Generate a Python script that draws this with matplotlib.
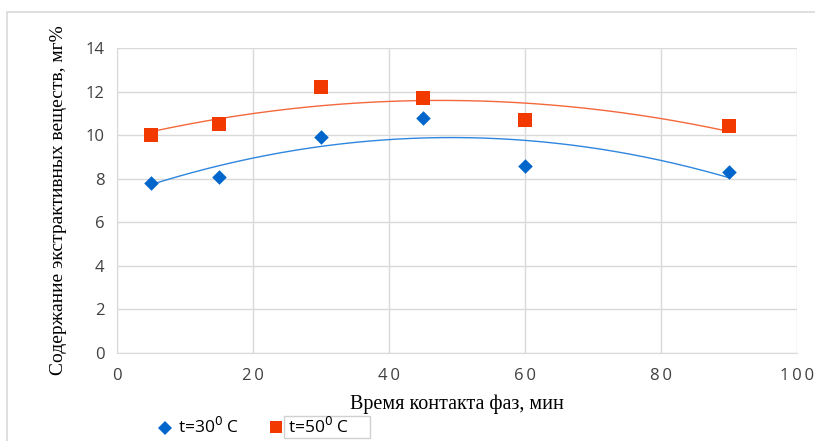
import numpy as np
import matplotlib
matplotlib.use("Agg")
import matplotlib.pyplot as plt
from matplotlib.patches import Rectangle
from matplotlib.lines import Line2D
from matplotlib.ticker import FuncFormatter

time_min = [5, 15, 30, 45, 60, 90]
t30 = [7.8, 8.1, 9.9, 10.8, 8.6, 8.3]
t50 = [10.0, 10.5, 12.2, 11.7, 10.7, 10.4]
labels = ["t=30$^0$ C", "t=50$^0$ C"]
xlabel = "Время контакта фаз, мин"
ylabel = "Содержание экстрактивных веществ, мг%"

blue = "#0066cc"
red = "#f23a00"

fig = plt.figure(figsize=(8.15, 4.41), dpi=100)
ax = fig.add_axes([0.1436, 0.1995, 0.8344, 0.6915])

xs = np.linspace(min(time_min), max(time_min), 200)
c30 = np.polyfit(time_min, t30, 2)
c50 = np.polyfit(time_min, t50, 2)
ax.plot(xs, np.polyval(c30, xs), color="#2e86de", lw=1.0, zorder=2)
ax.plot(xs, np.polyval(c50, xs), color="#f4683a", lw=1.0, zorder=2)
ax.scatter(time_min, t30, marker="D", s=55, color=blue, zorder=3, linewidths=0)
ax.scatter(time_min, t50, marker="s", s=110, color=red, zorder=3, linewidths=0)

ax.set_xlim(0, 100)
ax.set_ylim(0, 14)
ax.set_xticks(np.arange(0, 101, 20))
ax.set_yticks(np.arange(0, 15, 2))
ax.xaxis.set_major_formatter(FuncFormatter(lambda v, p: "\u2009".join(str(int(v)))))
ax.grid(True, color="#d9d9d9", lw=1.0)
ax.set_axisbelow(True)
for s in ["top", "right"]:
    ax.spines[s].set_visible(False)
for s in ["left", "bottom"]:
    ax.spines[s].set_color("#d9d9d9")
ax.tick_params(length=0, labelsize=12, colors="#404040")
ax.tick_params(axis="x", pad=11)
ax.tick_params(axis="y", pad=9)
for lab in ax.get_xticklabels() + ax.get_yticklabels():
    lab.set_fontfamily(["Open Sans", "DejaVu Sans"])

ax.set_xlabel(xlabel, fontfamily="Liberation Serif", fontsize=14.5, labelpad=7)
ax.set_ylabel(ylabel, fontfamily="Liberation Serif", fontsize=14, labelpad=13)

# outer frame
fig.patches.append(Rectangle((7/815, -0.01), 1.0, 1 - 12/441 + 0.01, transform=fig.transFigure,
                             fill=False, edgecolor="#d9d9d9", lw=1.2))

# legend
fig.lines.append(Line2D([165/815], [1 - 428/441], marker="D", color=blue, ms=7, mew=0,
                        transform=fig.transFigure))
fig.text(178/815, 1 - 427/441, labels[0], fontfamily="Open Sans", fontsize=12.5,
         va="center", ha="left", color="black")
fig.lines.append(Line2D([276/815], [1 - 427/441], marker="s", color=red, ms=9, mew=0,
                        transform=fig.transFigure))
fig.patches.append(Rectangle((284/815, 1 - 438/441), 86/815, 22/441, transform=fig.transFigure,
                             fill=False, edgecolor="#d0d0d0", lw=1.0))
fig.text(288/815, 1 - 427/441, labels[1], fontfamily="Open Sans", fontsize=12.5,
         va="center", ha="left", color="black")

fig.savefig("out.png", dpi=100)
